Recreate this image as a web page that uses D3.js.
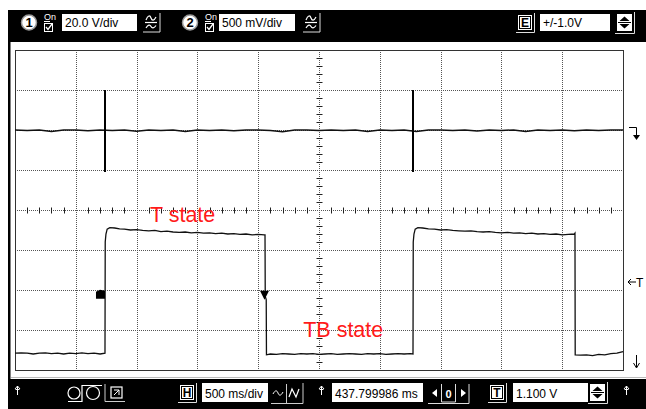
<!DOCTYPE html>
<html><head><meta charset="utf-8">
<script src="https://cdn.jsdelivr.net/npm/d3@7"></script>
<style>html,body{margin:0;padding:0;background:#fff}svg{display:block}</style>
</head><body><svg id="scope" width="646" height="409"></svg>
<script>
// ---- channel settings / labels ----
const ch1Label = "20.0 V/div";
const ch2Label = "500 mV/div";
const extLabel = "+/-1.0V";
const timebaseLabel = "500 ms/div";
const delayLabel = "437.799986 ms";
const triggerLabel = "1.100 V";
const stateLabels = ["T state", "TB state"];

// ---- channel 1 (20 V/div): flat trace with two short pulses ----
const ch1Times = [0,100,200,300,400,500,600,700,800,900,1000,1100,1200,1300,1400,1500,1600,1700,1800,1900,2000,
  2100,2200,2300,2400,2500,2600,2700,2800,2900,3000,3100,3200,3300,3400,3500,3600,3700,3800,3900,4000,
  4100,4200,4300,4400,4500,4600,4700,4800,4900,5000];
const ch1Volts = [0,-0.3,0,-0.8,0,0,-0.4,0,-0.2,0,-0.6,0,-0.2,0,-0.8,0,-0.3,0,-0.4,0,0,
  -0.2,-0.9,0,0,-0.3,0,-0.2,0,-0.7,0,-0.2,0,-0.8,0,0,-0.3,0,-0.5,0,-0.2,
  0,-0.8,0,-0.2,0,-0.4,0,-0.3,0,0];
const ch1SpikeTimes = [740, 3273];
const ch1SpikeHigh = 20;
const ch1SpikeLow = -21;

// ---- channel 2 (500 mV/div): two pulses ----
const ch2Times = [0,50,100,150,200,250,300,350,400,450,500,550,600,650,700,740,
  742,748,758,780,820,860,900,950,1000,1050,1100,1150,1200,1250,1300,1350,1400,1450,1500,1550,1600,1650,1700,1750,1800,1850,1900,1950,2000,2050,2056,
  2058,2066,2068,2100,2150,2200,2250,2300,2350,2400,2450,2500,2550,2600,2650,2700,2750,2800,2850,2900,2950,3000,3050,3100,3150,3200,3250,3273,
  3275,3281,3291,3313,3353,3400,3450,3500,3550,3600,3650,3700,3750,3800,3850,3900,3950,4000,4050,4100,4150,4200,4250,4300,4350,4400,4450,4500,4550,4600,4605,
  4607,4650,4700,4750,4800,4850,4900,4950,5000];
const ch2Volts = [0.21,0.215,0.21,0.2,0.21,0.215,0.205,0.21,0.2,0.21,0.205,0.215,0.205,0.21,0.2,0.21,
  1.60,1.70,1.76,1.78,1.775,1.765,1.76,1.75,1.755,1.745,1.74,1.745,1.73,1.735,1.725,1.72,1.725,1.715,1.72,1.71,1.715,1.705,1.71,1.70,1.705,1.695,1.70,1.69,1.695,1.69,1.69,
  0.92,0.88,0.19,0.20,0.195,0.205,0.20,0.195,0.205,0.20,0.205,0.195,0.20,0.205,0.195,0.20,0.205,0.20,0.195,0.205,0.20,0.205,0.195,0.20,0.205,0.20,0.205,0.20,
  1.60,1.70,1.76,1.78,1.775,1.765,1.76,1.75,1.755,1.745,1.74,1.735,1.74,1.73,1.725,1.73,1.72,1.715,1.72,1.71,1.715,1.705,1.71,1.70,1.705,1.695,1.70,1.69,1.695,1.70,1.71,
  0.19,0.185,0.19,0.18,0.195,0.19,0.205,0.21,0.23];
const ch2RiseMarker = [740, 0.94];
const ch2FallMarker = [2056, 0.94];
const labelPositions = [[1110, 1.85], [2370, 0.41]];

const svg = d3.select("#scope");
const plot = {left: 15, top: 50, right: 623, bottom: 370};
const x = d3.scaleLinear().domain([0, 5000]).range([plot.left, plot.right]);
const y1 = d3.scaleLinear().domain([-120, 40]).range([plot.bottom, plot.top]);
const y2 = d3.scaleLinear().domain([0, 4]).range([plot.bottom, plot.top]);

// ---- instrument frame ----
svg.append("rect").attr("x", 8).attr("y", 10).attr("width", 638).attr("height", 399).attr("fill", "#000");
svg.append("rect").attr("x", 10.5).attr("y", 42).attr("width", 636).attr("height", 337).attr("fill", "#fff");
svg.append("line").attr("x1", 11).attr("x2", 646).attr("y1", 377.5).attr("y2", 377.5).attr("stroke", "#bbb");

// ---- grid ----
const g = svg.append("g");
const vLines = d3.range(0, 5001, 500);
const hLines = d3.range(0, 4.01, 0.5);
g.selectAll("line.v").data(vLines.slice(1, -1)).join("line")
  .attr("x1", d => Math.round(x(d)) + 0.5).attr("x2", d => Math.round(x(d)) + 0.5)
  .attr("y1", plot.top).attr("y2", plot.bottom)
  .attr("stroke", "#555").attr("stroke-dasharray", "1,1");
g.selectAll("line.h").data(hLines.slice(1, -1)).join("line")
  .attr("y1", d => Math.round(y2(d)) + 0.5).attr("y2", d => Math.round(y2(d)) + 0.5)
  .attr("x1", plot.left).attr("x2", plot.right)
  .attr("stroke", "#555").attr("stroke-dasharray", "1,1");
// minor ticks on the centre lines
const cx = Math.round(x(2500)) + 0.5, cy = Math.round(y2(2)) + 0.5;
g.selectAll("line.mt").data(d3.range(100, 5000, 100).filter(d => d % 500)).join("line")
  .attr("x1", d => Math.round(x(d)) + 0.5).attr("x2", d => Math.round(x(d)) + 0.5)
  .attr("y1", cy - 3).attr("y2", cy + 3).attr("stroke", "#222");
g.selectAll("line.mv").data(d3.range(1, 40).map(d => d / 10).filter(d => Math.round(d * 10) % 5)).join("line")
  .attr("y1", d => Math.round(y2(d)) + 0.5).attr("y2", d => Math.round(y2(d)) + 0.5)
  .attr("x1", cx - 3).attr("x2", cx + 3).attr("stroke", "#222");
g.append("rect").attr("x", plot.left + 0.5).attr("y", plot.top + 0.5)
  .attr("width", plot.right - plot.left).attr("height", plot.bottom - plot.top)
  .attr("fill", "none").attr("stroke", "#333");

// ---- traces ----
const line1 = d3.line().x(d => x(d[0])).y(d => y1(d[1]));
svg.append("path").datum(d3.zip(ch1Times, ch1Volts)).attr("d", line1)
  .attr("fill", "none").attr("stroke", "#111").attr("stroke-width", 1.5);
svg.selectAll("line.spike").data(ch1SpikeTimes).join("line")
  .attr("x1", d => x(d)).attr("x2", d => x(d))
  .attr("y1", y1(ch1SpikeHigh)).attr("y2", y1(ch1SpikeLow))
  .attr("stroke", "#000").attr("stroke-width", 2);

const line2 = d3.line().x(d => x(d[0])).y(d => y2(d[1]));
svg.append("path").datum(d3.zip(ch2Times, ch2Volts)).attr("d", line2)
  .attr("fill", "none").attr("stroke", "#111").attr("stroke-width", 1.3);

// edge markers
const rx = x(ch2RiseMarker[0]), ry = y2(ch2RiseMarker[1]);
svg.append("path").attr("d", `M${rx - 9},${ry - 3} L${rx - 5},${ry - 5} L${rx},${ry - 4} L${rx},${ry + 4} L${rx - 9},${ry + 4} Z`).attr("fill", "#000");
const fx = x(ch2FallMarker[0]), fy = y2(ch2FallMarker[1]);
svg.append("path").attr("d", `M${fx - 5},${fy - 4} L${fx + 4},${fy - 4} L${fx - 0.5},${fy + 5} Z`).attr("fill", "#000");

// state labels
svg.selectAll("text.state").data(stateLabels).join("text")
  .attr("x", (d, i) => x(labelPositions[i][0]))
  .attr("y", (d, i) => y2(labelPositions[i][1]))
  .attr("fill", "#ff1a1a").attr("font-family", "Liberation Sans, Arial, sans-serif")
  .attr("font-size", 21.5).text(d => d);

// ---- right-side reference markers ----
const rs = svg.append("g").attr("stroke", "#000").attr("fill", "none").attr("stroke-width", 1);
rs.append("path").attr("d", `M629,${y1(0) - 2.5} H636.5 V${y1(0) + 7}`);
svg.append("path").attr("d", `M633,${y1(0) + 5} L640,${y1(0) + 5} L636.5,${y1(0) + 10} Z`).attr("fill", "#000");
rs.append("path").attr("d", `M628,${y2(1.1)} H636 M631,${y2(1.1) - 3} L628,${y2(1.1)} L631,${y2(1.1) + 3}`);
svg.append("text").attr("x", 636).attr("y", y2(1.1) + 4.5).attr("font-family", "Liberation Sans, Arial, sans-serif")
  .attr("font-size", 12).text("T");
rs.append("path").attr("d", "M636.5,355 V367 M633.5,363 L636.5,368 L639.5,363");

// ---- control bar helpers ----
const font = "Liberation Sans, Arial, sans-serif";
function field(xp, yp, w, h, label) {
  svg.append("rect").attr("x", xp).attr("y", yp).attr("width", w).attr("height", h).attr("fill", "#fff");
  svg.append("text").attr("x", xp + 3).attr("y", yp + h - 4.5).attr("font-family", font)
    .attr("font-size", 12).attr("fill", "#000").text(label);
}
function keyBox(xp, yp, letter) {
  svg.append("rect").attr("x", xp).attr("y", yp).attr("width", 14).attr("height", 15).attr("fill", "#fff");
  svg.append("rect").attr("x", xp + 1.5).attr("y", yp + 1.5).attr("width", 11).attr("height", 12)
    .attr("fill", "none").attr("stroke", "#000");
  svg.append("text").attr("x", xp + 7).attr("y", yp + 12).attr("text-anchor", "middle")
    .attr("font-family", font).attr("font-weight", "bold").attr("font-size", 12).text(letter);
  svg.append("path").attr("d", `M${xp + 16.5},${yp - 2} V${yp + 17.5} H${xp - 2}`)
    .attr("fill", "none").attr("stroke", "#ddd");
}
function spinner(xp, yp) {
  svg.append("rect").attr("x", xp).attr("y", yp).attr("width", 15).attr("height", 17).attr("fill", "#fff");
  svg.append("path").attr("d", `M${xp + 2.5},${yp + 7} L${xp + 7.5},${yp + 2.5} L${xp + 12.5},${yp + 7} Z M${xp + 2.5},${yp + 10} L${xp + 7.5},${yp + 14.5} L${xp + 12.5},${yp + 10} Z`).attr("fill", "#000");
  svg.append("line").attr("x1", xp + 1).attr("x2", xp + 14).attr("y1", yp + 8.5).attr("y2", yp + 8.5).attr("stroke", "#000");
  svg.append("path").attr("d", `M${xp + 17.5},${yp - 2} V${yp + 19.5} H${xp - 2}`).attr("fill", "none").attr("stroke", "#ddd");
}
function upArrow(xp, yp) {
  svg.append("path").attr("d", `M${xp},${yp} V${yp + 9} M${xp - 2.5},${yp + 3} L${xp},${yp} L${xp + 2.5},${yp + 3} M${xp - 2},${yp + 3.5} H${xp + 2}`)
    .attr("fill", "none").attr("stroke", "#fff").attr("stroke-width", 1);
}
function chanBadge(cxp, num) {
  svg.append("circle").attr("cx", cxp).attr("cy", 22.5).attr("r", 7.5).attr("fill", "#fff").attr("stroke", "#999").attr("stroke-width", 1.5);
  svg.append("text").attr("x", cxp).attr("y", 27).attr("text-anchor", "middle").attr("font-family", font)
    .attr("font-weight", "bold").attr("font-size", 13).text(num);
  const ox = cxp + 15;
  svg.append("text").attr("x", ox).attr("y", 20).attr("font-family", font).attr("font-size", 9).attr("fill", "#fff").text("On");
  svg.append("line").attr("x1", ox).attr("x2", ox + 6).attr("y1", 21.5).attr("y2", 21.5).attr("stroke", "#fff");
  svg.append("rect").attr("x", ox + 0.5).attr("y", 23.5).attr("width", 8).attr("height", 8).attr("fill", "none").attr("stroke", "#fff");
  svg.append("path").attr("d", `M${ox + 2},27 L${ox + 4},29.5 L${ox + 8},24`).attr("fill", "none").attr("stroke", "#fff").attr("stroke-width", 1.3);
}
function couplingIcon(xp) {
  const p = svg.append("g").attr("fill", "none").attr("stroke", "#fff").attr("stroke-width", 1.2);
  p.append("path").attr("d", `M${xp + 3},20 C${xp + 5},15 ${xp + 7},15 ${xp + 8},18 S${xp + 11},21 ${xp + 13},17`);
  p.append("line").attr("x1", xp + 2).attr("x2", xp + 14).attr("y1", 22.5).attr("y2", 22.5);
  p.append("path").attr("d", `M${xp + 3},28 C${xp + 5},24.5 ${xp + 7},24.5 ${xp + 8},26.5 S${xp + 11},28.5 ${xp + 13},25.5`);
  p.append("path").attr("d", `M${xp + 17},13 V32 H${xp}`).attr("stroke", "#ddd").attr("stroke-width", 1);
}

// ---- top bar ----
chanBadge(29, "1");
field(62, 14, 75, 17, ch1Label);
couplingIcon(143);
chanBadge(190, "2");
field(219, 14, 76, 17, ch2Label);
couplingIcon(303);
keyBox(518, 15, "E");
field(540, 14, 70, 17, extLabel);
spinner(617, 14);

// ---- bottom bar ----
const wc = svg.append("g").attr("fill", "none").attr("stroke", "#fff").attr("stroke-width", 1.2);
upArrow(17.5, 386);
wc.append("circle").attr("cx", 74).attr("cy", 393).attr("r", 6);
wc.append("path").attr("d", "M68,401.5 H82 V385.5 H102");
wc.append("circle").attr("cx", 93).attr("cy", 393).attr("r", 6.5);
wc.append("rect").attr("x", 111).attr("y", 387).attr("width", 11).attr("height", 11);
wc.append("path").attr("d", "M114,390 H119 V395 M114,395 L119,390").attr("stroke-width", 1);
wc.append("path").attr("d", "M105,384 V401.5 H125").attr("stroke", "#ccc").attr("stroke-width", 1);

keyBox(180, 385, "H");
field(202, 383, 66, 19, timebaseLabel);
wc.append("path").attr("d", "M273,394 C275,390 277,390 278,393 S281,396 283,392").attr("stroke-width", 1);
wc.append("line").attr("x1", 286.5).attr("x2", 286.5).attr("y1", 384).attr("y2", 403).attr("stroke", "#ccc").attr("stroke-width", 1);
wc.append("path").attr("d", "M289,397 L292,389 L296,397 L299,389");
wc.append("path").attr("d", "M271,403.5 H303 V383").attr("stroke", "#ccc").attr("stroke-width", 1);
upArrow(321.5, 386);

field(332, 383, 91, 19, delayLabel);
// delay step control
svg.append("path").attr("d", "M437,389 L432,393 L437,397 Z M461,389 L466,393 L461,397 Z").attr("fill", "#fff");
wc.append("path").attr("d", "M441.5,384 V402 H455.5 V384 M428,403.5 H469 V384").attr("stroke-width", 1).attr("stroke", "#ddd");
svg.append("text").attr("x", 448.5).attr("y", 397.5).attr("text-anchor", "middle").attr("font-family", font)
  .attr("font-weight", "bold").attr("font-size", 11).attr("fill", "#fff").text("0");

keyBox(490, 385, "T");
field(513, 383, 75, 19, triggerLabel);
spinner(590, 384);
upArrow(626.5, 386);
</script></body></html>
